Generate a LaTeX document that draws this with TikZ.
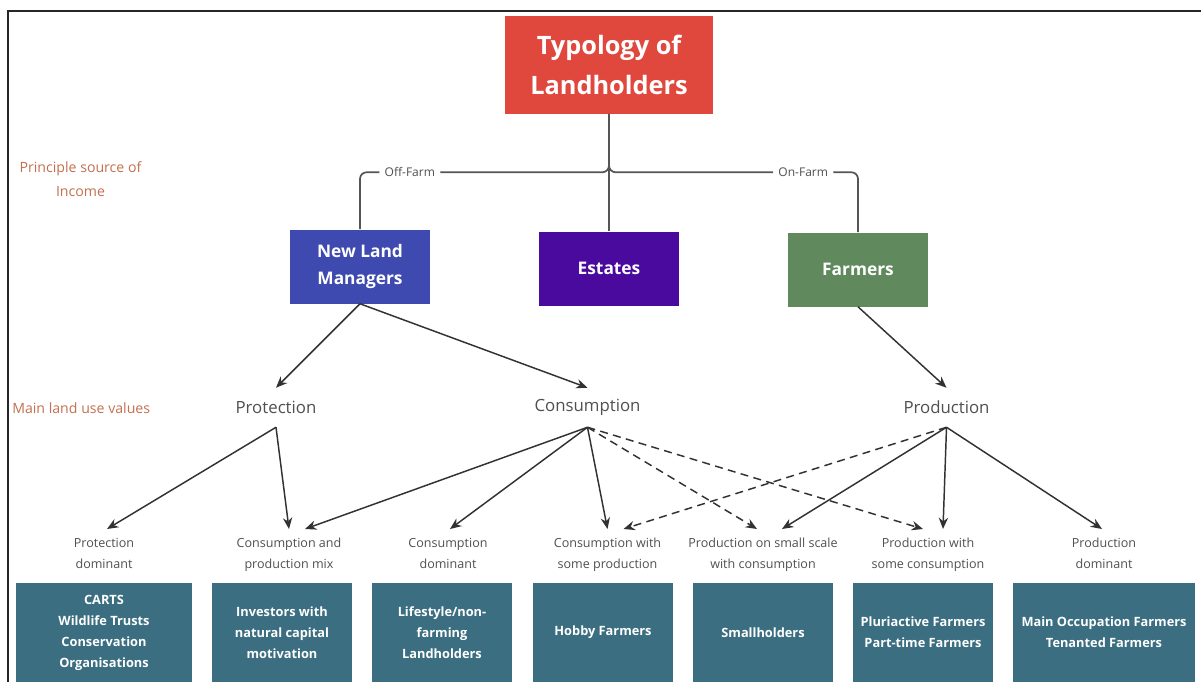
\documentclass[tikz,border=0pt]{standalone}
\usepackage{fontspec}
\setmainfont{Open Sans}
\usetikzlibrary{arrows.meta}

\definecolor{titlered}{RGB}{224,72,62}
\definecolor{nlmblue}{RGB}{62,74,176}
\definecolor{estpurple}{RGB}{75,10,158}
\definecolor{farmgreen}{RGB}{96,138,94}
\definecolor{tealbox}{RGB}{58,110,128}
\definecolor{rowlabel}{RGB}{196,112,80}
\definecolor{linegray}{RGB}{85,85,85}
\definecolor{arrowgray}{RGB}{50,50,50}
\definecolor{textgray}{RGB}{80,80,80}

\begin{document}
\begin{tikzpicture}[x=0.75pt,y=-0.75pt,
  box/.style={inner sep=0pt, align=center, text=white},
  lvlbox/.style={box, minimum width=105pt, minimum height=55.5pt,
    font=\fontsize{13}{20}\selectfont\bfseries},
  typebox/.style={box, fill=tealbox, minimum height=74.25pt,
    font=\fontsize{9.6}{15.75}\selectfont\bfseries},
  value/.style={inner sep=0pt, minimum height=29.25pt, text=textgray,
    font=\fontsize{12.6}{15}\selectfont},
  mix/.style={anchor=north, inner xsep=0pt, inner ysep=6.5pt, align=center, text=textgray,
    font=\fontsize{9.4}{15.75}\selectfont},
  rowname/.style={text=rowlabel, align=center, inner sep=0pt,
    font=\fontsize{10.6}{18}\selectfont},
  tree/.style={draw=linegray, line width=1.3pt, rounded corners=5pt},
  flow/.style={draw=arrowgray, line width=1.1pt, -{Stealth[length=8.5pt,width=7pt]}},
  maybe/.style={flow, dash pattern=on 6pt off 4pt},
  branch/.style={fill=white, inner xsep=4pt, inner ysep=1pt, text=textgray,
    font=\fontsize{9}{11}\selectfont}
]
% canvas and frame
\useasboundingbox (0,0) rectangle (1201,682);
\fill[white] (0,0) rectangle (1201,682);
\draw[line width=1.5pt, draw=black!85] (1201,11) -- (8,11) -- (8,682);

% row names
\node[rowname] (rsrc) at (80.5,179) {Principle source of\\Income};
\node[rowname, anchor=west] (rval) at (12,408) {Main land use values};

% top of the hierarchy
\node[box, fill=titlered, minimum width=156pt, minimum height=73.5pt,
  font=\fontsize{19}{30}\selectfont\bfseries] (title) at (609,64.5) {Typology of\\Landholders};
\node[lvlbox, fill=nlmblue] (nlm) at (360,266.5) {New Land\\Managers};
\node[lvlbox, fill=estpurple] (est) at (609,268.5) {Estates};
\node[lvlbox, fill=farmgreen] (farm) at (858,269.5) {Farmers};

\draw[tree] (title.south) -- ++(0,58.5) -| node[branch, pos=0.4] {Off-Farm} (nlm.north);
\draw[tree] (title.south) -- ++(0,58.5) -| node[branch, pos=0.39] {On-Farm} (farm.north);
\draw[tree] (title.south) -- (est.north);

% main land use values
\node[value] (prot) at (276,407.5) {Protection};
\node[value] (cons) at (587.5,407.5) {Consumption};
\node[value] (prod) at (946.5,407.5) {Production};

\draw[flow] (nlm.south) -- (prot.north);
\draw[flow] (nlm.south) -- (cons.north);
\draw[flow] (farm.south) -- (prod.north);

% value mixes
\node[mix] (pd) at (104,529) {Protection\\dominant};
\node[mix] (cpm) at (289,529) {Consumption and\\production mix};
\node[mix] (cd) at (448,529) {Consumption\\dominant};
\node[mix] (cwsp) at (607.5,529) {Consumption with\\some production};
\node[mix] (pss) at (763,529) {Production on small scale\\with consumption};
\node[mix] (pwsc) at (928,529) {Production with\\some consumption};
\node[mix] (pdom) at (1104,529) {Production\\dominant};

\draw[flow] (prot.south) -- ([xshift=2.25pt]pd.north);
\draw[flow] (prot.south) -- (cpm.north);
\draw[flow] (cons.south) -- ([xshift=12pt]cpm.north);
\draw[flow] (cons.south) -- ([xshift=1.5pt]cd.north);
\draw[flow] (cons.south) -- (cwsp.north);
\draw[maybe] (cons.south) -- ([xshift=-4.5pt]pss.north);
\draw[maybe] (cons.south) -- ([xshift=-3.75pt]pwsc.north);
\draw[maybe] (prod.south) -- ([xshift=12pt]cwsp.north);
\draw[flow] (prod.south) -- ([xshift=14.25pt]pss.north);
\draw[flow] (prod.south) -- ([xshift=11.25pt]pwsc.north);
\draw[flow] (prod.south) -- ([xshift=-1.5pt]pdom.north);

% landholder types
\node[typebox, minimum width=132pt] (t1) at (104,632.5) {CARTS\\Wildlife Trusts\\Conservation\\Organisations};
\node[typebox, minimum width=105pt] (t2) at (282,632.5) {Investors with\\natural capital\\motivation};
\node[typebox, minimum width=105pt] (t3) at (442,632.5) {Lifestyle/non-\\farming\\Landholders};
\node[typebox, minimum width=105pt] (t4) at (603,632.5) {Hobby Farmers};
\node[typebox, minimum width=105pt] (t5) at (763,632.5) {Smallholders};
\node[typebox, minimum width=105pt] (t6) at (923,632.5) {Pluriactive Farmers\\Part-time Farmers};
\node[typebox, minimum width=136.5pt] (t7) at (1104,632.5) {Main Occupation Farmers\\Tenanted Farmers};
\end{tikzpicture}
\end{document}
